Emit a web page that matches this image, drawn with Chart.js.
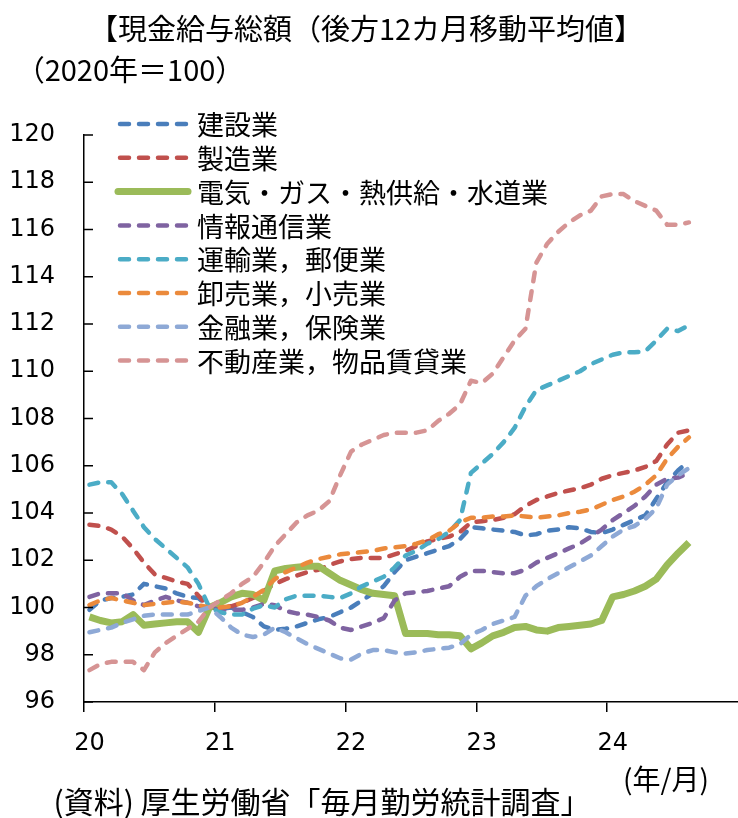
<!DOCTYPE html>
<html><head><meta charset="utf-8">
<script src="https://cdn.jsdelivr.net/npm/chart.js@4.4.1/dist/chart.umd.min.js"></script>
<style>html,body{margin:0;padding:0;background:#fff;overflow:hidden}canvas{display:block}</style>
</head><body>
<canvas id="c" width="738" height="818"></canvas>
<script>
// ---- data ----
const yearLabels = ['20', '21', '22', '23', '24'];
const months = [];
for (let y = 2020; y <= 2024; y++) for (let m = 1; m <= 12; m++) months.push(y + '/' + m);

const seriesNames = ['建設業', '製造業', '電気・ガス・熱供給・水道業', '情報通信業', '運輸業，郵便業', '卸売業，小売業', '金融業，保険業', '不動産業，物品賃貸業'];

const construction = [99.9,100.3,100.4,100.45,100.55,101.0,100.9,100.8,100.6,100.45,100.4,100.0, 99.95,100.0,99.8,99.6,99.2,99.05,99.1,99.2,99.35,99.5,99.6,99.8, 100.0,100.3,100.6,100.9,101.5,102.0,102.15,102.3,102.45,102.6,102.9,103.4, 103.35,103.3,103.25,103.2,103.05,103.1,103.25,103.3,103.4,103.35,103.2,103.15, 103.3,103.5,103.7,103.9,104.6,105.3,105.8,106.2];
const manufacturing = [103.5,103.45,103.3,103.0,102.5,101.9,101.4,101.25,101.1,101.0,100.5,100.0, 100.0,100.05,100.2,100.4,100.7,101.0,101.2,101.35,101.5,101.6,101.8,101.95, 102.05,102.1,102.1,102.1,102.25,102.4,102.6,102.8,102.9,103.0,103.2,103.6, 103.65,103.7,103.8,103.95,104.3,104.55,104.7,104.85,104.95,105.05,105.2,105.45, 105.6,105.7,105.8,105.95,106.2,106.9,107.4,107.5];
const utilities = [99.6,99.45,99.35,99.4,99.7,99.25,99.3,99.35,99.4,99.4,98.95,100.0, 100.2,100.45,100.6,100.55,100.3,101.55,101.65,101.7,101.75,101.75,101.45,101.15, 100.95,100.75,100.6,100.55,100.5,98.9,98.9,98.9,98.85,98.85,98.8,98.25, 98.5,98.8,98.95,99.15,99.2,99.05,99.0,99.15,99.2,99.25,99.3,99.45, 100.45,100.55,100.7,100.9,101.2,101.8,102.3,102.75];
const ict = [100.45,100.6,100.6,100.6,100.3,100.1,100.3,100.45,100.3,100.2,100.05,100.0, 99.9,99.9,99.9,100.0,100.15,100.1,99.85,99.75,99.7,99.6,99.45,99.15, 99.05,99.2,99.35,99.55,100.3,100.6,100.65,100.7,100.8,100.9,101.3,101.55, 101.55,101.5,101.45,101.45,101.6,101.9,102.1,102.3,102.5,102.7,103.0,103.3, 103.7,104.0,104.3,104.7,105.2,105.45,105.5,105.7];
const transport = [105.2,105.3,105.3,104.8,104.1,103.4,102.9,102.5,102.1,101.7,101.0,100.0, 99.8,99.7,99.7,99.95,100.1,100.0,100.35,100.5,100.5,100.5,100.45,100.4, 100.6,100.9,101.1,101.3,101.7,102.2,102.4,102.7,102.9,103.2,103.7,105.7, 106.1,106.5,107.0,107.6,108.5,109.2,109.4,109.6,109.8,110.0,110.3,110.5, 110.7,110.8,110.8,110.85,111.3,111.8,111.7,111.95];
const wholesale = [100.1,100.3,100.4,100.3,100.2,100.1,100.15,100.2,100.25,100.2,100.1,100.0, 100.0,100.05,100.2,100.45,100.75,101.2,101.5,101.7,101.9,102.05,102.15,102.25, 102.3,102.35,102.4,102.5,102.55,102.6,102.7,102.85,103.1,103.25,103.6,103.8, 103.8,103.85,103.85,103.9,103.85,103.8,103.85,103.9,104.0,104.05,104.15,104.35, 104.55,104.7,104.9,105.2,105.6,106.3,106.8,107.2];
const finance = [98.95,99.05,99.15,99.35,99.5,99.65,99.7,99.7,99.7,99.7,99.85,100.0, 99.6,99.15,98.85,98.75,98.85,99.15,98.95,98.7,98.45,98.25,98.05,97.85, 97.8,98.05,98.2,98.2,98.1,98.05,98.1,98.2,98.25,98.3,98.45,98.85, 99.05,99.3,99.45,99.6,100.5,100.9,101.2,101.45,101.7,101.95,102.2,102.6, 103.0,103.3,103.45,103.75,104.2,105.2,105.6,105.9];
const realEstate = [97.35,97.6,97.7,97.7,97.7,97.35,98.1,98.5,98.8,99.1,99.4,100.0, 100.3,100.6,101.0,101.3,101.9,102.6,103.1,103.6,103.9,104.1,104.5,105.6, 106.6,106.9,107.1,107.3,107.4,107.4,107.4,107.5,107.9,108.2,108.6,109.6, 109.5,109.9,110.6,111.3,111.8,114.6,115.4,115.9,116.3,116.6,116.8,117.4, 117.5,117.5,117.2,117.0,116.8,116.2,116.2,116.3];

const yTicks = [96, 98, 100, 102, 104, 106, 108, 110, 112, 114, 116, 118, 120];

const seriesValues = [construction, manufacturing, utilities, ict, transport, wholesale, finance, realEstate];
const seriesColors = ['#4A7EBB', '#C0504D', '#9BBB59', '#7F63A1', '#4BACC6', '#EB8A3C', '#8EA9D6', '#D69494'];

const titleText = '【現金給与総額（後方12カ月移動平均値】';
const unitText = '（2020年＝100）';
const xUnitText = '(年/月)';
const sourceText = '(資料) 厚生労働省「毎月勤労統計調査」';

const JP = '"Noto Sans CJK JP", "Noto Sans", sans-serif';
const NUM = '"DejaVu Sans", Verdana, sans-serif';

const datasets = seriesNames.map((name, i) => {
  const solid = i === 2;
  return {
    label: name,
    data: seriesValues[i],
    borderColor: seriesColors[i],
    backgroundColor: seriesColors[i],
    borderWidth: solid ? 7 : 4.5,
    borderDash: solid ? [] : [9, 10],
    borderCapStyle: solid ? 'butt' : 'round',
    borderJoinStyle: 'round',
    pointRadius: 0,
    tension: 0,
    fill: false,
    spanGaps: false,
    order: seriesNames.length - i
  };
});

const decor = {
  id: 'decor',
  afterDraw(chart) {
    const ctx = chart.ctx;
    const ys = chart.scales.y;
    const area = chart.chartArea;
    ctx.save();
    // inward y-axis tick marks
    ctx.strokeStyle = '#000';
    ctx.lineWidth = 1.5;
    ys.ticks.forEach(t => {
      const py = ys.getPixelForValue(t.value);
      ctx.beginPath();
      ctx.moveTo(area.left, py);
      ctx.lineTo(area.left + 9, py);
      ctx.stroke();
    });
    // legend
    const lx0 = 118, lx1 = 188, tx = 197, ly0 = 124, dy = 33.8;
    chart.data.datasets.forEach((ds, i) => {
      const yy = ly0 + i * dy;
      ctx.save();
      ctx.strokeStyle = ds.borderColor;
      ctx.lineWidth = ds.borderWidth;
      ctx.lineCap = 'round';
      ctx.setLineDash(ds.borderDash);
      ctx.beginPath();
      ctx.moveTo(lx0 + (ds.borderDash.length ? 2 : 0), yy);
      ctx.lineTo(lx1, yy);
      ctx.stroke();
      ctx.restore();
      ctx.fillStyle = '#000';
      ctx.font = '27px ' + JP;
      ctx.textAlign = 'left';
      ctx.textBaseline = 'middle';
      ctx.fillText(ds.label, tx, yy + 1);
    });
    // texts
    ctx.fillStyle = '#000';
    ctx.textBaseline = 'middle';
    ctx.textAlign = 'center';
    ctx.font = '29px ' + JP;
    ctx.fillText(titleText, 366, 29);
    ctx.fillText(unitText, 130, 70);
    ctx.font = '28px ' + JP;
    ctx.fillText(xUnitText, 666, 779);
    ctx.font = '30px ' + JP;
    ctx.fillText(sourceText, 322, 802);
    ctx.restore();
  }
};

function build() {
  new Chart(document.getElementById('c'), {
    type: 'line',
    data: { labels: months, datasets },
    options: {
      responsive: false,
      animation: false,
      devicePixelRatio: 1,
      layout: { padding: { top: 135, left: 7, right: 0, bottom: 0 } },
      plugins: { legend: { display: false }, tooltip: { enabled: false } },
      scales: {
        x: {
          type: 'category',
          offset: true,
          afterFit: s => { s.height = 116; s.paddingLeft = 0; s.paddingRight = 0; },
          grid: {
            offset: true,
            drawOnChartArea: false,
            drawTicks: true,
            tickLength: 10,
            lineWidth: 1.5,
            color: c => (c.index !== undefined && c.index % 12 === 0 && c.type === 'tick') ? '#000' : 'rgba(0,0,0,0)'
          },
          border: { display: true, color: '#000', width: 1.5 },
          ticks: {
            autoSkip: false,
            maxRotation: 0,
            minRotation: 0,
            padding: 17,
            color: '#000',
            font: { family: NUM, size: 24 },
            callback: (v, i) => (i % 12 === 0) ? yearLabels[i / 12] : ''
          }
        },
        y: {
          min: 96,
          max: 120,
          afterBuildTicks: s => { s.ticks = yTicks.map(v => ({ value: v })); },
          afterFit: s => { s.width = 77; },
          grid: { drawOnChartArea: false, drawTicks: false },
          border: { display: true, color: '#000', width: 1.5 },
          ticks: {
            padding: 29,
            color: '#000',
            font: { family: NUM, size: 24 }
          }
        }
      }
    },
    plugins: [decor]
  });
}

Promise.all([
  document.fonts.load('26px "Noto Sans CJK JP"', '現金'),
  document.fonts.load('24px "DejaVu Sans"', '120')
]).then(build, build);
</script>
</body></html>
